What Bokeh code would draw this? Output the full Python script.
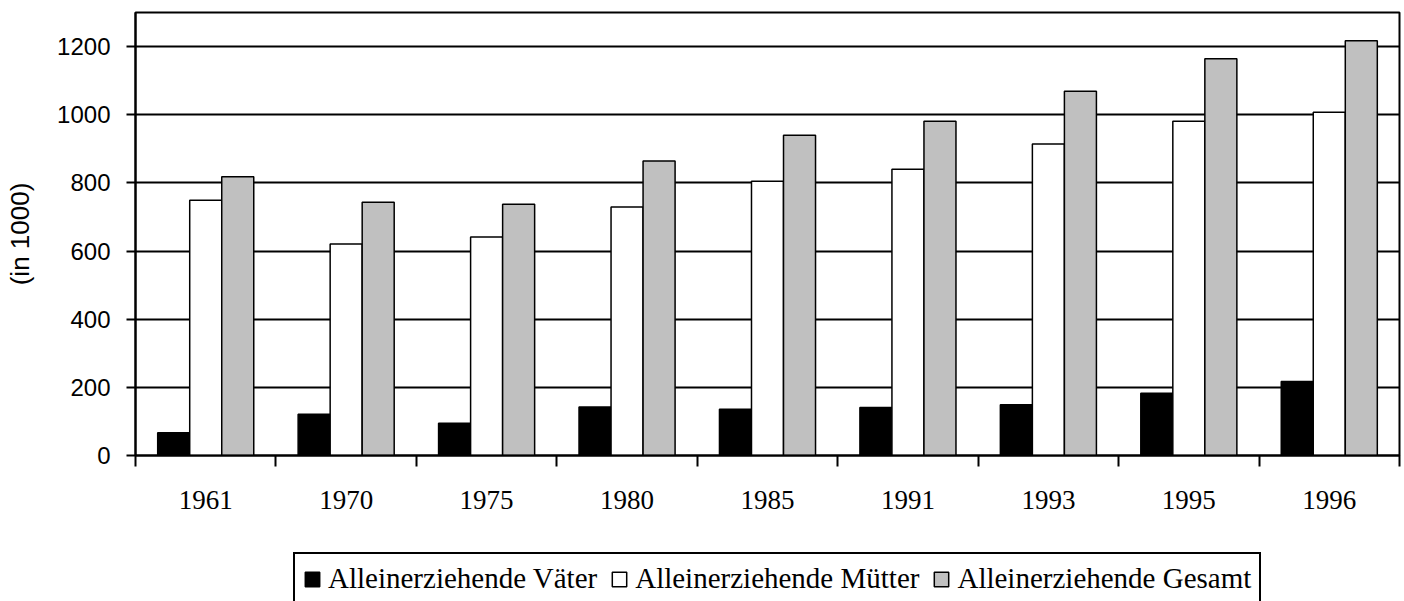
from bokeh.plotting import figure
from bokeh.layouts import column
from bokeh.models import ColumnDataSource, Range1d, FixedTicker, Legend, LegendItem
from bokeh.transform import dodge
from bokeh.embed import file_html
from bokeh.resources import INLINE

years = ["1961", "1970", "1975", "1980", "1985", "1991", "1993", "1995", "1996"]
vaeter = [67, 121, 95, 142, 136, 141, 149, 183, 217]
muetter = [749, 621, 641, 729, 805, 840, 914, 981, 1007]
gesamt = [818, 743, 737, 864, 940, 981, 1069, 1164, 1217]
series_names = ["Alleinerziehende Väter", "Alleinerziehende Mütter", "Alleinerziehende Gesamt"]
y_ticks = [0, 200, 400, 600, 800, 1000, 1200]

n = len(years)
centers = [i + 0.5 for i in range(n)]
source = ColumnDataSource(dict(x=centers, v=vaeter, m=muetter, g=gesamt))
bw = 0.228
styles = [dict(fill_color="black"), dict(fill_color="white"), dict(fill_color="#C0C0C0")]
fields = ["v", "m", "g"]
offsets = [-bw, 0, bw]


def add_bars(fig, visible=True):
    rs = []
    for f, off, st in zip(fields, offsets, styles):
        rs.append(fig.vbar(x=dodge("x", off, range=fig.x_range), top=f, width=bw,
                           source=source, line_color="black", line_width=1.5,
                           visible=visible, **st))
    return rs


p = figure(width=1401, height=540, output_backend="svg", toolbar_location=None,
           x_range=Range1d(0, n), y_range=Range1d(0, 1300),
           min_border_left=135, min_border_right=2, min_border_top=12, min_border_bottom=85)
add_bars(p)

p.outline_line_color = "black"
p.outline_line_width = 2
p.outline_line_alpha = 1
p.background_fill_color = "white"
p.border_fill_color = "white"

# x axis: labels at centres, tick marks between categories
p.xaxis.ticker = FixedTicker(ticks=centers, minor_ticks=list(range(n + 1)))
p.xaxis.major_label_overrides = {c: y for c, y in zip(centers, years)}
p.xaxis.major_tick_line_color = None
p.xaxis.major_tick_out = 11
p.xaxis.major_tick_in = 0
p.xaxis.minor_tick_out = 11
p.xaxis.minor_tick_in = 0
p.xaxis.minor_tick_line_color = "black"
p.xaxis.minor_tick_line_width = 2
p.xaxis.axis_line_color = "black"
p.xaxis.axis_line_width = 2
p.xaxis.major_label_text_font = "Liberation Serif"
p.xaxis.major_label_text_font_size = "27px"
p.xaxis.major_label_text_color = "black"
p.xaxis.major_label_standoff = 24
p.xgrid.grid_line_color = None

# y axis
p.yaxis.ticker = FixedTicker(ticks=y_ticks)
p.yaxis.minor_tick_line_color = None
p.yaxis.major_tick_out = 9
p.yaxis.major_tick_in = 0
p.yaxis.major_tick_line_color = "black"
p.yaxis.major_tick_line_width = 2
p.yaxis.axis_line_color = "black"
p.yaxis.axis_line_width = 2
p.yaxis.major_label_text_font = "Liberation Sans"
p.yaxis.major_label_text_font_size = "24px"
p.yaxis.major_label_text_color = "black"
p.yaxis.major_label_standoff = 16
p.yaxis.axis_label = "(in 1000)"
p.yaxis.axis_label_text_font = "Liberation Sans"
p.yaxis.axis_label_text_font_size = "26px"
p.yaxis.axis_label_text_font_style = "normal"
p.yaxis.axis_label_text_color = "black"
p.yaxis.axis_label_standoff = 19
p.ygrid.ticker = FixedTicker(ticks=y_ticks)
p.ygrid.grid_line_color = "black"
p.ygrid.grid_line_width = 2

# legend strip below the chart (its renderers are hidden; only the legend shows)
q = figure(width=1401, height=61, output_backend="svg", toolbar_location=None,
           x_range=Range1d(0, n), y_range=Range1d(0, 1300),
           x_axis_location=None, y_axis_location=None, min_border=0)
q.grid.visible = False
q.outline_line_color = None
q.background_fill_color = "white"
q.border_fill_color = "white"
rq = add_bars(q, visible=False)

legend = Legend(items=[LegendItem(label=nm, renderers=[r]) for nm, r in zip(series_names, rq)],
                orientation="horizontal", location=(158, -4))
legend.label_text_font = "Liberation Serif"
legend.label_text_font_size = "29px"
legend.label_text_color = "black"
legend.glyph_width = 18
legend.glyph_height = 18
legend.label_standoff = 7
legend.spacing = 13
legend.padding = 8
legend.margin = 0
legend.border_line_color = "black"
legend.border_line_width = 2
legend.border_line_alpha = 1
legend.background_fill_color = "white"
legend.background_fill_alpha = 1
q.add_layout(legend, "center")

layout = column(p, q, spacing=0)
open("out.html", "w").write(file_html(layout, INLINE))
